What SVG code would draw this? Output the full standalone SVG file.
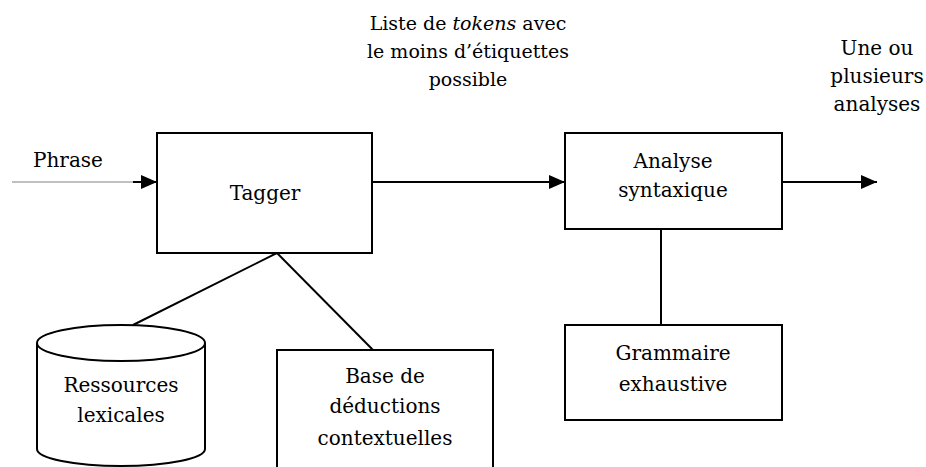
<svg xmlns="http://www.w3.org/2000/svg" width="926" height="467" viewBox="0 0 926 467">
  <style>
    .box { fill: #fff; stroke: #000; stroke-width: 2; }
    .wire { fill: none; stroke: #000; stroke-width: 2; }
    .thin { fill: none; stroke: #808080; stroke-width: 1; }
    .c { text-anchor: middle; }
    text { font-family: "DejaVu Serif", serif; font-size: 20px; fill: #000; }
    .top { font-size: 19px; }
  </style>
  <defs>
    <marker id="head" viewBox="0 0 16 14" refX="16" refY="7" markerWidth="16" markerHeight="14" markerUnits="userSpaceOnUse" orient="auto">
      <path d="M0,0 L16,7 L0,14 Z" fill="#000"/>
    </marker>
  </defs>
  <rect width="926" height="467" fill="#fff"/>

  <!-- connectors -->
  <g id="connectors">
    <line class="thin" x1="12" y1="182" x2="134" y2="182"/>
    <line class="wire" x1="133" y1="182" x2="157" y2="182" marker-end="url(#head)"/>
    <line class="wire" x1="372" y1="182" x2="565" y2="182" marker-end="url(#head)"/>
    <line class="wire" x1="782" y1="182" x2="877" y2="182" marker-end="url(#head)"/>
    <line class="wire" x1="277" y1="253" x2="133" y2="325"/>
    <line class="wire" x1="277" y1="253" x2="373" y2="350"/>
    <line class="wire" x1="661" y1="229" x2="661" y2="325"/>
  </g>

  <!-- free labels -->
  <g id="labels">
    <text x="33" y="167">Phrase</text>
    <text class="c top" x="468" y="30">Liste de <tspan font-style="italic">tokens</tspan> avec</text>
    <text class="c top" x="468" y="58">le moins d’étiquettes</text>
    <text class="c top" x="468" y="86">possible</text>
    <text class="c" x="877" y="55">Une ou</text>
    <text class="c" x="877" y="83">plusieurs</text>
    <text class="c" x="877" y="111">analyses</text>
  </g>

  <g id="tagger">
    <rect class="box" x="157" y="133" width="215" height="120"/>
    <text class="c" x="265" y="200">Tagger</text>
  </g>

  <g id="analyse">
    <rect class="box" x="565" y="133" width="217" height="96"/>
    <text class="c" x="673" y="168">Analyse</text>
    <text class="c" x="673" y="197">syntaxique</text>
  </g>

  <g id="grammaire">
    <rect class="box" x="565" y="325" width="217" height="95"/>
    <text class="c" x="673" y="360">Grammaire</text>
    <text class="c" x="673" y="391">exhaustive</text>
  </g>

  <g id="ressources">
    <path class="box" d="M37,343 L37,449 A84,17 0 0 0 205,449 L205,343"/>
    <ellipse class="box" cx="121" cy="343" rx="84" ry="18"/>
    <text class="c" x="121" y="392">Ressources</text>
    <text class="c" x="121" y="422">lexicales</text>
  </g>

  <g id="base">
    <rect class="box" x="277" y="350" width="216" height="130"/>
    <text class="c" x="385" y="383">Base de</text>
    <text class="c" x="385" y="413">déductions</text>
    <text class="c" x="385" y="445">contextuelles</text>
  </g>
</svg>
